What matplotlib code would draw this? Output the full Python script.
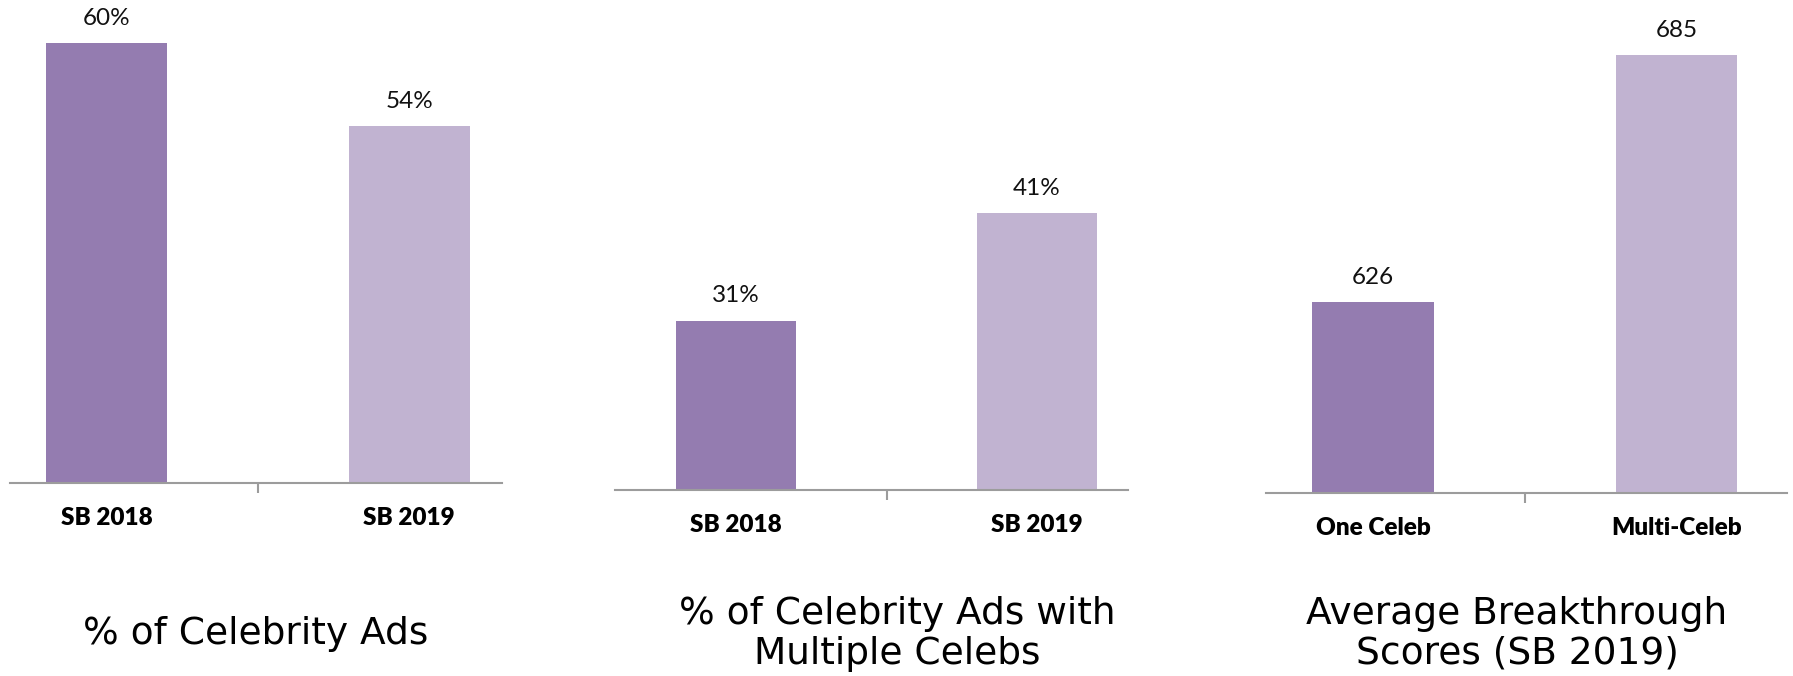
import matplotlib
matplotlib.use("Agg")
import matplotlib.pyplot as plt

# Chart data
ads_categories = ["SB 2018", "SB 2019"]
ads_values = [60, 54]

multi_categories = ["SB 2018", "SB 2019"]
multi_values = [31, 41]

score_categories = ["One Celeb", "Multi-Celeb"]
score_values = [626, 685]

titles = [
    "% of Celebrity Ads",
    "% of Celebrity Ads with\nMultiple Celebs",
    "Average Breakthrough\nScores (SB 2019)",
]

DARK = "#947CB0"
LIGHT = "#C1B3D1"
AXIS_GREY = "#9C9C9C"

W, H = 1793, 676
fig = plt.figure(figsize=(W / 100, H / 100), dpi=100)

# panel layout in pixels: axis line left/right, baseline y, px per unit, value at baseline
panels = [
    dict(cats=ads_categories, vals=ads_values, fmt="{}%",
         left=10, right=502, base=483, ppu=13.83, y0=28.2, xlim=(-0.319, 1.307)),
    dict(cats=multi_categories, vals=multi_values, fmt="{}%",
         left=615, right=1128, base=490, ppu=10.77, y0=15.3, xlim=(-0.402, 1.302)),
    dict(cats=score_categories, vals=score_values, fmt="{}",
         left=1266, right=1787, base=493, ppu=4.186, y0=580.4, xlim=(-0.3525, 1.364)),
]

for p in panels:
    ax = fig.add_axes([p["left"] / W, (H - p["base"]) / H,
                       (p["right"] - p["left"]) / W, p["base"] / H])
    ax.set_xlim(*p["xlim"])
    ax.set_ylim(p["y0"], p["y0"] + p["base"] / p["ppu"])
    ax.set_facecolor("none")

    x = range(len(p["vals"]))
    bars = ax.bar(x, p["vals"], width=0.4, color=[DARK, LIGHT], zorder=2)

    for b, v in zip(bars, p["vals"]):
        ax.annotate(p["fmt"].format(v), (b.get_x() + b.get_width() / 2, v),
                    xytext=(0, 18), textcoords="offset points",
                    ha="center", va="center", fontsize=17.5, family="Lato",
                    color="#111111")

    for s in ["top", "left", "right"]:
        ax.spines[s].set_visible(False)
    ax.spines["bottom"].set_color(AXIS_GREY)
    ax.spines["bottom"].set_linewidth(1.5)
    ax.spines["bottom"].set_zorder(3)

    ax.set_yticks([])
    ax.set_xticks(list(x))
    ax.set_xticklabels(p["cats"], fontsize=17.5, family="Lato", fontweight="heavy")
    ax.tick_params(axis="x", which="major", length=0, pad=17)
    ax.set_xticks([0.5], minor=True)
    ax.tick_params(axis="x", which="minor", length=7, width=1.5, color=AXIS_GREY)

fig.text(256 / W, 1 - 634 / H, titles[0], ha="center", va="center",
         fontsize=27, family="DejaVu Sans")
fig.text(897 / W, 1 - 634 / H, titles[1], ha="center", va="center",
         fontsize=27, family="DejaVu Sans", linespacing=1.12)
fig.text(1517 / W, 1 - 634 / H, titles[2], ha="center", va="center",
         fontsize=27, family="DejaVu Sans", linespacing=1.12)

fig.savefig("out.png", dpi=100, facecolor="white")
